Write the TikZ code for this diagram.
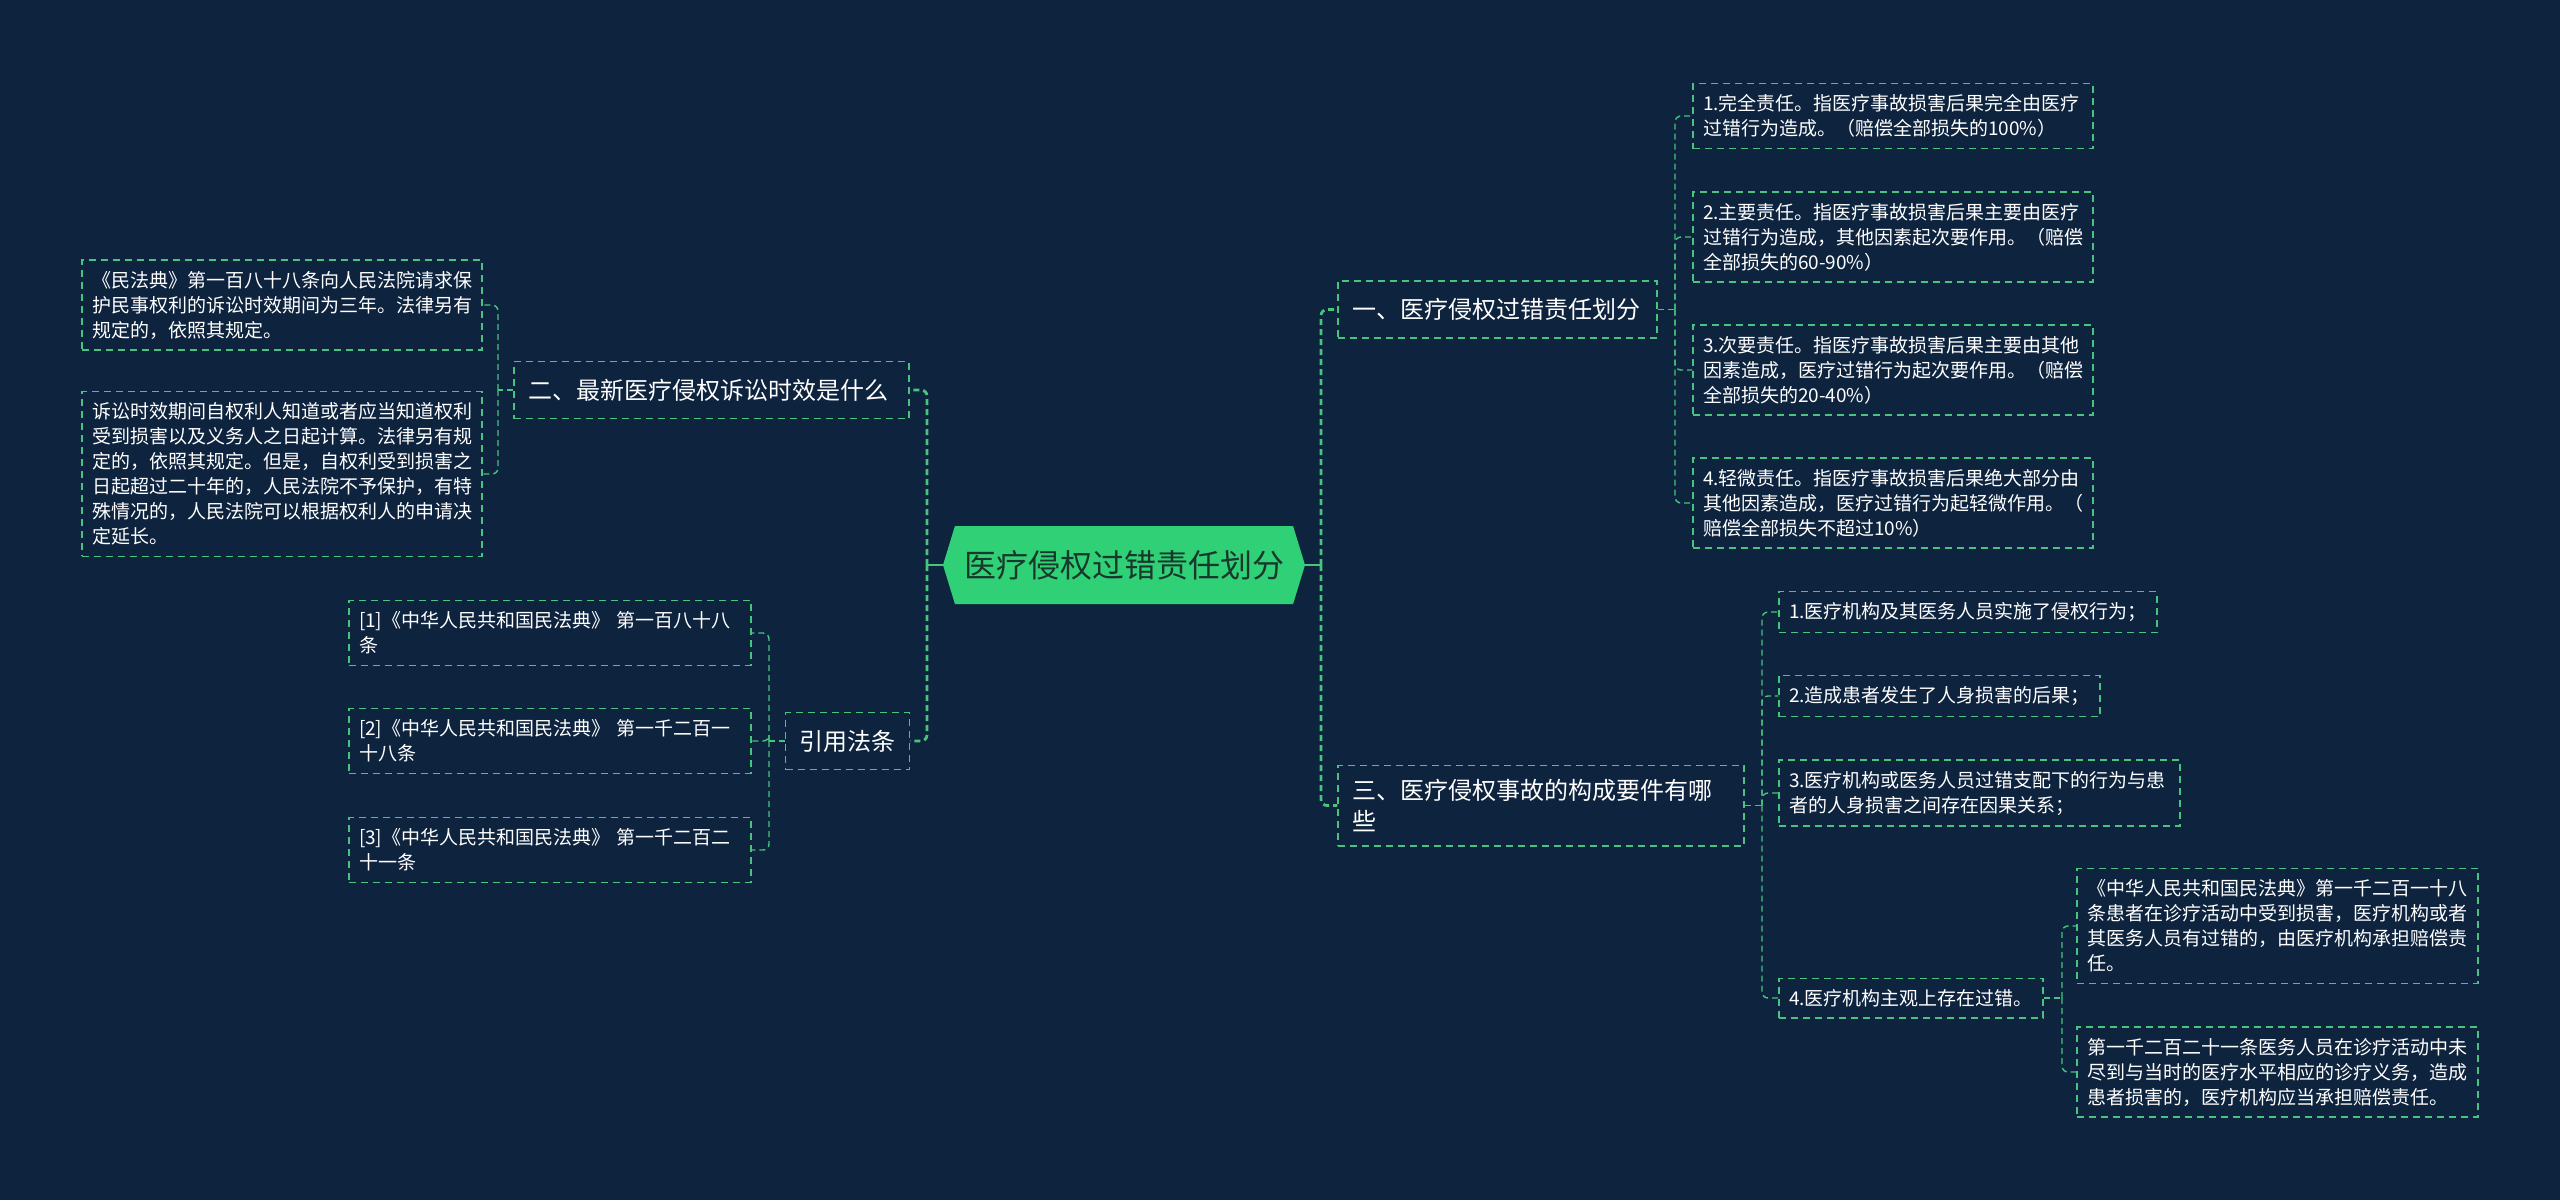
\documentclass[tikz,border=0pt]{standalone}
\usepackage{fontspec}
\setmainfont{Noto Sans CJK SC}
\usetikzlibrary{shapes.symbols}

\definecolor{bgnavy}{RGB}{13,35,62}
\definecolor{linegreen}{RGB}{72,196,124}
\definecolor{rootgreen}{RGB}{48,208,118}
\definecolor{roottext}{RGB}{24,56,44}

\begin{document}
\begin{tikzpicture}
  [x=0.5pt,y=-0.5pt,
   every node/.style={text=white,align=left,inner xsep=5pt,inner ysep=5.5pt},
   leaf/.style={draw=linegreen,dash pattern=on 3.5pt off 2.5pt,line width=0.7pt,font=\fontsize{9.5}{12.5}\selectfont},
   topic/.style={leaf,font=\fontsize{12}{15.5}\selectfont,inner xsep=7pt,inner ysep=7pt,minimum height=28.5pt},
   root/.style={signal,signal to=west and east,signal pointer angle=146,fill=rootgreen,text=roottext,
     font=\fontsize{16}{18}\selectfont,minimum width=181pt,minimum height=39pt,inner sep=0pt,align=center},
   link/.style={draw=linegreen,dash pattern=on 3pt off 2pt,line width=0.7pt,rounded corners=3pt},
   trunk/.style={link,line width=1.4pt}]

  \fill[bgnavy] (0,0) rectangle (2560,1200);

  \node[root] (root) at (1124,565) {医疗侵权过错责任划分};

  % right side
  \node[topic,text width=145.5pt] (m1) at (1497.5,309.5) {一、医疗侵权过错责任划分};
  \node[topic,text width=189pt] (m3) at (1541,805.5) {三、医疗侵权事故的构成要件有哪\\些};

  \node[leaf,text width=190pt] (r1) at (1893,116) {1.完全责任。指医疗事故损害后果完全由医疗\\过错行为造成。（赔偿全部损失的100\%）};
  \node[leaf,text width=190pt] (r2) at (1893,237) {2.主要责任。指医疗事故损害后果主要由医疗\\过错行为造成，其他因素起次要作用。（赔偿\\全部损失的60-90\%）};
  \node[leaf,text width=190pt] (r3) at (1893,370) {3.次要责任。指医疗事故损害后果主要由其他\\因素造成，医疗过错行为起次要作用。（赔偿\\全部损失的20-40\%）};
  \node[leaf,text width=190pt] (r4) at (1893,503) {4.轻微责任。指医疗事故损害后果绝大部分由\\其他因素造成，医疗过错行为起轻微作用。（\\赔偿全部损失不超过10\%）};

  \node[leaf,text width=179pt] (c1) at (1968,612) {1.医疗机构及其医务人员实施了侵权行为；};
  \node[leaf,text width=150.5pt] (c2) at (1939.5,696) {2.造成患者发生了人身损害的后果；};
  \node[leaf,text width=190.5pt] (c3) at (1979.5,793) {3.医疗机构或医务人员过错支配下的行为与患\\者的人身损害之间存在因果关系；};
  \node[leaf,text width=122pt] (c4) at (1911,998) {4.医疗机构主观上存在过错。};

  \node[leaf,text width=190.5pt] (d1) at (2277.5,926) {《中华人民共和国民法典》第一千二百一十八\\条患者在诊疗活动中受到损害，医疗机构或者\\其医务人员有过错的，由医疗机构承担赔偿责\\任。};
  \node[leaf,text width=190.5pt] (d2) at (2277.5,1072) {第一千二百二十一条医务人员在诊疗活动中未\\尽到与当时的医疗水平相应的诊疗义务，造成\\患者损害的，医疗机构应当承担赔偿责任。};

  % left side
  \node[topic,text width=183.5pt] (m2) at (711.5,390) {二、最新医疗侵权诉讼时效是什么};
  \node[topic,text width=48pt] (m4) at (847.5,741) {引用法条};

  \node[leaf,text width=190pt] (a1) at (282,305) {《民法典》第一百八十八条向人民法院请求保\\护民事权利的诉讼时效期间为三年。法律另有\\规定的，依照其规定。};
  \node[leaf,text width=190pt] (a2) at (282,474) {诉讼时效期间自权利人知道或者应当知道权利\\受到损害以及义务人之日起计算。法律另有规\\定的，依照其规定。但是，自权利受到损害之\\日起超过二十年的，人民法院不予保护，有特\\殊情况的，人民法院可以根据权利人的申请决\\定延长。};

  \node[leaf,text width=191pt] (q1) at (550,633) {[1]《中华人民共和国民法典》 第一百八十八\\条};
  \node[leaf,text width=191pt] (q2) at (550,741) {[2]《中华人民共和国民法典》 第一千二百一\\十八条};
  \node[leaf,text width=191pt] (q3) at (550,850) {[3]《中华人民共和国民法典》 第一千二百二\\十一条};

  % junctions
  \coordinate (rt) at (1321,565);
  \coordinate (lt) at (927,565);
  \coordinate (k1) at (1675,309.5);
  \coordinate (k3) at (1762,805.5);
  \coordinate (k4) at (2062,998);
  \coordinate (k2) at (498,390);
  \coordinate (kq) at (769,741);

  \draw[linegreen,line width=1.4pt] (root.east) -- (rt);
  \draw[linegreen,line width=1.4pt] (root.west) -- (lt);
  \foreach \kid in {m1,m3}
    \draw[trunk] (rt) |- (\kid.west);
  \foreach \kid in {m2,m4}
    \draw[trunk] (lt) |- (\kid.east);

  \draw[link] (m1.east) -- (k1);
  \foreach \kid in {r1,r2,r3,r4}
    \draw[link] (k1) |- (\kid.west);
  \draw[link] (m3.east) -- (k3);
  \foreach \kid in {c1,c2,c3,c4}
    \draw[link] (k3) |- (\kid.west);
  \draw[link] (c4.east) -- (k4);
  \foreach \kid in {d1,d2}
    \draw[link] (k4) |- (\kid.west);

  \draw[link] (m2.west) -- (k2);
  \foreach \kid in {a1,a2}
    \draw[link] (k2) |- (\kid.east);
  \draw[link] (m4.west) -- (kq);
  \foreach \kid in {q1,q2,q3}
    \draw[link] (kq) |- (\kid.east);

\end{tikzpicture}
\end{document}
